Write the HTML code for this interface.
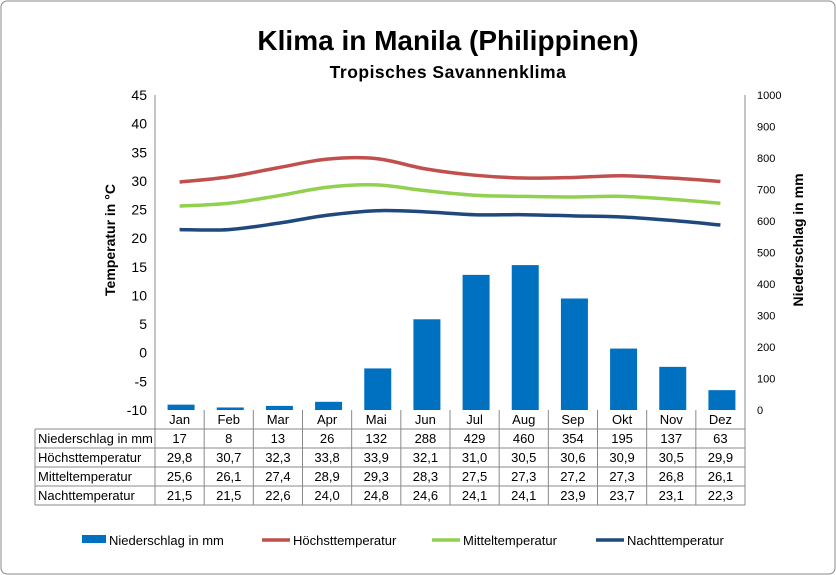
<!DOCTYPE html>
<html><head><meta charset="utf-8"><style>
body{margin:0;background:#fff}
svg{font-family:"Liberation Sans",sans-serif;display:block}
</style></head><body>
<svg id="c" width="836" height="575" viewBox="0 0 836 575">
<rect x="1" y="1" width="834" height="573" rx="6" fill="#fff" stroke="#888"/>
<text x="448" y="50" text-anchor="middle" font-size="28" font-weight="bold">Klima in Manila (Philippinen)</text>
<text x="448" y="78" text-anchor="middle" font-size="17.5" font-weight="bold" letter-spacing="0.5">Tropisches Savannenklima</text>
<text transform="translate(115,240) rotate(-90)" text-anchor="middle" font-size="14" font-weight="bold">Temperatur in °C</text>
<text transform="translate(803,240) rotate(-90)" text-anchor="middle" font-size="14" font-weight="bold">Niederschlag in mm</text>
<g id="g"></g>
</svg>
<script>
const months=["Jan","Feb","Mar","Apr","Mai","Jun","Jul","Aug","Sep","Okt","Nov","Dez"];
const rain=[17,8,13,26,132,288,429,460,354,195,137,63];
const tmax=[29.8,30.7,32.3,33.8,33.9,32.1,31.0,30.5,30.6,30.9,30.5,29.9];
const tmean=[25.6,26.1,27.4,28.9,29.3,28.3,27.5,27.3,27.2,27.3,26.8,26.1];
const tmin=[21.5,21.5,22.6,24.0,24.8,24.6,24.1,24.1,23.9,23.7,23.1,22.3];
const leftTicks=[45,40,35,30,25,20,15,10,5,0,-5,-10];
const rightTicks=[1000,900,800,700,600,500,400,300,200,100,0];
const X0=155,X1=745,Y0=410,Y1=95;
const cw=(X1-X0)/months.length;
const xc=i=>X0+(i+0.5)*cw;
const yT=v=>Y0-(v+10)/55*(Y0-Y1);
const yR=v=>Y0-v/1000*(Y0-Y1);
const g=document.getElementById('g');
const NS="http://www.w3.org/2000/svg";
function mk(t,a,txt){const e=document.createElementNS(NS,t);for(const k in a)e.setAttribute(k,a[k]);if(txt!==undefined)e.textContent=txt;g.appendChild(e);return e;}
let e;
e=mk('line',{x1:X0,y1:Y1,x2:X0,y2:Y0,stroke:'#888'});


e=mk('line',{x1:X1,y1:Y1,x2:X1,y2:Y0,stroke:'#888'});


leftTicks.forEach(v=>{
 e=mk('text',{x:X0-8,y:yT(v)+5,'text-anchor':'end','font-size':14},String(v));
 
 
});
rightTicks.forEach(v=>{
 e=mk('text',{x:X1+12,y:yR(v)+4,'font-size':11},String(v));
 
 
});
rain.forEach((v,i)=>{
 e=mk('rect',{x:xc(i)-12,y:yR(v),width:27,height:Y0-yR(v),fill:'#0070c0'});
 
 
});
function path(arr){
 const p=arr.map((v,i)=>[xc(i),yT(v)]);
 let d='M'+p[0][0]+','+p[0][1];
 for(let i=0;i<p.length-1;i++){
  const a=p[Math.max(0,i-1)],b=p[i],c=p[i+1],dd=p[Math.min(p.length-1,i+2)];
  const c1=[b[0]+(c[0]-a[0])/6,b[1]+(c[1]-a[1])/6],c2=[c[0]-(dd[0]-b[0])/6,c[1]-(dd[1]-b[1])/6];
  d+=' C'+c1+' '+c2+' '+c;
 }
 return d;
}
[[tmax,'#c0504d','line-hoechsttemperatur'],[tmean,'#92d050','line-mitteltemperatur'],[tmin,'#1f497d','line-nachttemperatur']].forEach(([a,c,n])=>{
 e=mk('path',{d:path(a),fill:'none',stroke:c,'stroke-width':3.5});
 
 
});
const rows=[["Niederschlag in mm",rain,v=>String(v)],["Höchsttemperatur",tmax,v=>v.toFixed(1).replace('.',',')],["Mitteltemperatur",tmean,v=>v.toFixed(1).replace('.',',')],["Nachttemperatur",tmin,v=>v.toFixed(1).replace('.',',')]];
const TL=35,rh=19,TT=429;
months.forEach((m,i)=>{
 e=mk('text',{x:xc(i),y:424,'text-anchor':'middle','font-size':13},m);
 
 
});
for(let i=0;i<=months.length;i++){
 e=mk('line',{x1:X0+i*cw,y1:Y0,x2:X0+i*cw,y2:TT+4*rh,stroke:'#888'});
 
 
}
e=mk('line',{x1:TL,y1:TT,x2:TL,y2:TT+4*rh,stroke:'#888'});


for(let r=0;r<=4;r++){
 e=mk('line',{x1:TL,y1:TT+r*rh,x2:X1,y2:TT+r*rh,stroke:'#888'});
 
 
}
rows.forEach(([lab,arr,f],r)=>{
 const y=TT+r*rh+14;
 e=mk('text',{x:TL+3,y:y,'font-size':13},lab);
 
 
 arr.forEach((v,i)=>{
  e=mk('text',{x:xc(i),y:y,'text-anchor':'middle','font-size':13},f(v));
  
  
 });
});
const leg=[["Niederschlag in mm",'#0070c0','bar',82],["Höchsttemperatur",'#c0504d','line',262],["Mitteltemperatur",'#92d050','line',432],["Nachttemperatur",'#1f497d','line',596]];
leg.forEach(([t,c,k,x])=>{
 if(k==='bar'){e=mk('rect',{x:x,y:535,width:24,height:8,fill:c});}
 else{e=mk('line',{x1:x,y1:540,x2:x+28,y2:540,stroke:c,'stroke-width':3.5});}
 
 
 e=mk('text',{x:x+(k==='bar'?27:31),y:545,'font-size':13},t);
 
 
});
</script>
</body></html>
